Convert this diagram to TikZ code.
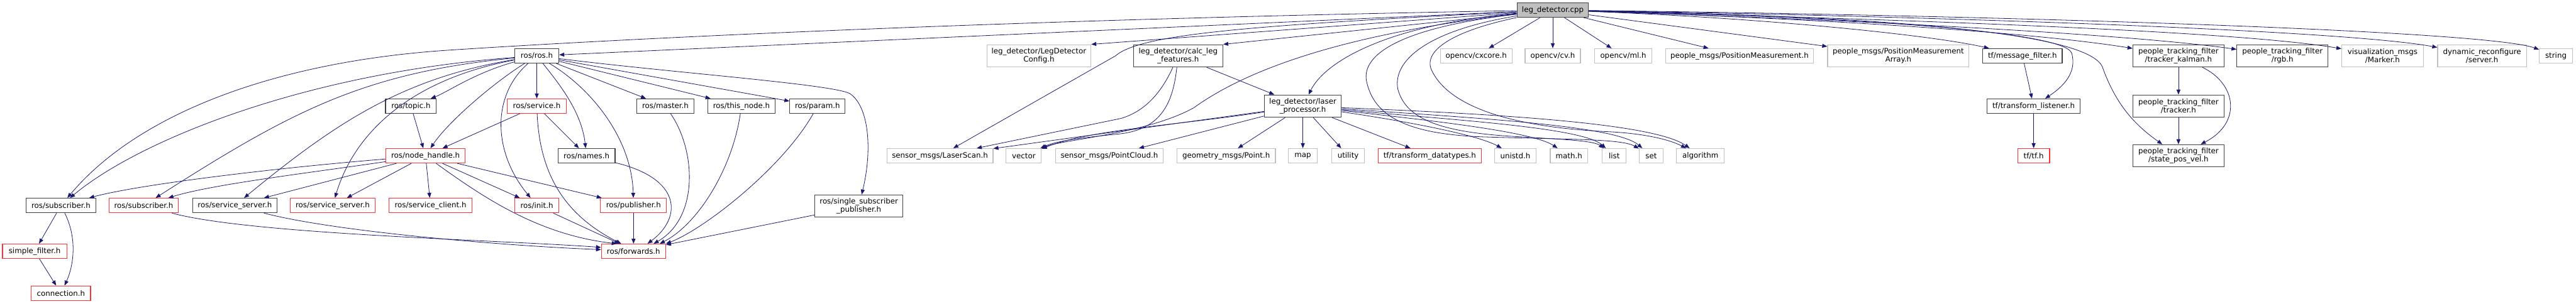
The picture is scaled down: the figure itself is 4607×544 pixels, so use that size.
\documentclass[tikz,border=0pt]{standalone}
\usepackage{fontspec}
\setmainfont{DejaVu Sans}
\usetikzlibrary{arrows.meta}
\definecolor{edgeblue}{HTML}{191970}
\definecolor{docdark}{HTML}{404040}
\definecolor{docred}{HTML}{FF3030}
\definecolor{extgray}{HTML}{BFBFBF}
\tikzset{
  hdr/.style={rectangle, draw, line width=1.2pt, fill=white, inner sep=0pt,
    minimum height=26pt, align=center, font=\fontsize{13.3}{14.5}\selectfont},
  doc/.style={hdr, draw=docdark},
  trunc/.style={hdr, draw=docred},
  ext/.style={hdr, draw=extgray},
  twoline/.style={minimum height=40pt},
  inc/.style={draw=edgeblue, line width=0.9pt, -{Triangle[length=9pt,width=7pt]}}
}
\begin{document}
\begin{tikzpicture}[x=1pt, y=-1pt]
    \useasboundingbox (0,0) rectangle (4607,544);

    % root
    \node[hdr, draw=docdark, fill=extgray, minimum width=128pt] (cpp) at (2777,18) {leg\_detector.cpp};

    % first level
    \node[doc, minimum width=79pt] (rosh) at (960,100) {ros/ros.h};
    \node[ext, twoline, minimum width=186pt] (ldc) at (1858,100) {leg\_detector/LegDetector\\Config.h};
    \node[doc, twoline, minimum width=160pt] (calc) at (2107,100) {leg\_detector/calc\_leg\\\_features.h};
    \node[ext, minimum width=128pt] (cxcore) at (2640,100) {opencv/cxcore.h};
    \node[ext, minimum width=99pt] (cv) at (2777,100) {opencv/cv.h};
    \node[ext, minimum width=102pt] (ml) at (2903,100) {opencv/ml.h};
    \node[ext, minimum width=265pt] (pm) at (3111,100) {people\_msgs/PositionMeasurement.h};
    \node[ext, twoline, minimum width=253pt] (pma) at (3395,100) {people\_msgs/PositionMeasurement\\Array.h};
    \node[doc, minimum width=142pt] (mf) at (3617,100) {tf/message\_filter.h};
    \node[doc, twoline, minimum width=163pt] (tk) at (3896,100) {people\_tracking\_filter\\/tracker\_kalman.h};
    \node[doc, twoline, minimum width=163pt] (rgb) at (4082,100) {people\_tracking\_filter\\/rgb.h};
    \node[ext, twoline, minimum width=146pt] (marker) at (4261,100) {visualization\_msgs\\/Marker.h};
    \node[ext, twoline, minimum width=159pt] (server) at (4439,100) {dynamic\_reconfigure\\/server.h};
    \node[ext, minimum width=59pt] (hstring) at (4571,100) {string};

    % second level
    \node[doc, minimum width=91pt] (topic) at (735,190) {ros/topic.h};
    \node[trunc, minimum width=105pt] (service) at (960,190) {ros/service.h};
    \node[doc, minimum width=102pt] (master) at (1190,190) {ros/master.h};
    \node[doc, minimum width=121pt] (thisnode) at (1326,190) {ros/this\_node.h};
    \node[doc, minimum width=99pt] (param) at (1462,190) {ros/param.h};
    \node[doc, twoline, minimum width=138pt] (lp) at (2330,190) {leg\_detector/laser\\\_processor.h};
    \node[doc, minimum width=166pt] (tl) at (3637,190) {tf/transform\_listener.h};
    \node[doc, twoline, minimum width=163pt] (tracker) at (3896,190) {people\_tracking\_filter\\/tracker.h};

    % third level
    \node[trunc, minimum width=142pt] (nh) at (761,279) {ros/node\_handle.h};
    \node[doc, minimum width=102pt] (names) at (1049,279) {ros/names.h};
    \node[ext, minimum width=190pt] (ls) at (1681,279) {sensor\_msgs/LaserScan.h};
    \node[ext, minimum width=63pt] (hvector) at (1831,279) {vector};
    \node[ext, minimum width=193pt] (pc) at (1984,279) {sensor\_msgs/PointCloud.h};
    \node[ext, minimum width=176pt] (pt) at (2193,279) {geometry\_msgs/Point.h};
    \node[ext, minimum width=51pt] (hmap) at (2330,279) {map};
    \node[ext, minimum width=59pt] (hutil) at (2411,279) {utility};
    \node[trunc, minimum width=184pt] (tfdt) at (2557,279) {tf/transform\_datatypes.h};
    \node[ext, minimum width=75pt] (hunistd) at (2710,279) {unistd.h};
    \node[ext, minimum width=67pt] (hmath) at (2806,279) {math.h};
    \node[ext, minimum width=43pt] (hlist) at (2887,279) {list};
    \node[ext, minimum width=43pt] (hset) at (2953,279) {set};
    \node[ext, minimum width=86pt] (halgo) at (3041,279) {algorithm};
    \node[trunc, minimum width=57pt] (tfh) at (3637,279) {tf/tf.h};
    \node[doc, twoline, minimum width=163pt] (spv) at (3896,279) {people\_tracking\_filter\\/state\_pos\_vel.h};

    % fourth level and below
    \node[doc, minimum width=124pt] (sub1) at (109,368) {ros/subscriber.h};
    \node[trunc, minimum width=124pt] (sub2) at (257,368) {ros/subscriber.h};
    \node[doc, minimum width=151pt] (ss1) at (420,368) {ros/service\_server.h};
    \node[trunc, minimum width=152pt] (ss2) at (595,368) {ros/service\_server.h};
    \node[trunc, minimum width=148pt] (sc) at (770,368) {ros/service\_client.h};
    \node[trunc, minimum width=79pt] (init) at (960,368) {ros/init.h};
    \node[trunc, minimum width=118pt] (pub) at (1133,368) {ros/publisher.h};
    \node[doc, twoline, minimum width=158pt] (ssp) at (1536,369) {ros/single\_subscriber\\\_publisher.h};
    \node[trunc, minimum width=115pt] (sf) at (62,450) {simple\_filter.h};
    \node[trunc, minimum width=115pt] (fw) at (1133,450) {ros/forwards.h};
    \node[trunc, minimum width=106pt] (conn) at (109,525) {connection.h};

    % straight includes
    \foreach \a/\b in {cpp/cxcore, cpp/cv, cpp/ml, cpp/pm, cpp/pma, cpp/rosh,
        rosh/service, rosh/master, rosh/thisnode, rosh/param,
        service/nh, service/names, topic/nh,
        nh/ss1, nh/ss2, nh/sc, nh/init, nh/pub, pub/fw, ssp/fw,
        sub1/sf, sf/conn, calc/lp, lp/ls, lp/pc, lp/pt, lp/hmap, lp/hutil, lp/tfdt,
        mf/tl, tl/tfh, tk/tracker, tracker/spv}
        \draw[inc] (\a) -- (\b);
    \draw[inc] (cpp) -- (ldc.north east);
    \draw[inc] (cpp) -- (calc.north east);
    \draw[inc] (init) -- ([xshift=-25pt]fw.north);

    % leg_detector.cpp, left side
    \draw[inc] (cpp) .. controls (1800,35) and (1100,70) .. (800,90) .. controls (500,110) and (250,200) .. (sub1);
    \draw[inc] (cpp) .. controls (2250,45) and (2040,60) .. (1995,100) -- (ls);
    \draw[inc] (cpp) .. controls (2450,55) and (2250,110) .. (2135,193) .. controls (2050,240) and (1900,250) .. (hvector);
    \draw[inc] (cpp) .. controls (2480,45) and (2370,110) .. (lp);
    \draw[inc] (cpp) .. controls (2500,50) and (2430,100) .. (2445,150) .. controls (2460,210) and (2520,240) .. (2650,245) .. controls (2800,250) and (2900,248) .. (hset);
    \draw[inc] (cpp) .. controls (2550,55) and (2490,110) .. (2500,160) .. controls (2515,215) and (2580,238) .. (2720,245) .. controls (2800,250) and (2850,252) .. (hlist);
    \draw[inc] (cpp) .. controls (2600,55) and (2545,90) .. (2560,125) .. controls (2590,190) and (2700,228) .. (2880,236) .. controls (2950,240) and (2990,252) .. (halgo);

    % leg_detector.cpp, right side
    \draw[inc] (cpp) .. controls (3150,32) and (3450,62) .. (mf);
    \draw[inc] (cpp) .. controls (3300,30) and (3690,55) .. (3705,95) .. controls (3715,130) and (3690,155) .. (tl);
    \draw[inc] (cpp) .. controls (3300,35) and (3650,60) .. (tk);
    \draw[inc] (cpp) .. controls (3400,30) and (3735,60) .. (3760,120) .. controls (3785,190) and (3820,225) .. (spv);
    \draw[inc] (cpp) .. controls (3300,35) and (3800,60) .. (rgb);
    \draw[inc] (cpp) .. controls (3400,35) and (4000,55) .. (marker);
    \draw[inc] (cpp) .. controls (3500,30) and (4200,55) .. (server);
    \draw[inc] (cpp) .. controls (3600,28) and (4450,55) .. (hstring);

    % leg detector headers
    \draw[inc] (calc) .. controls (2075,170) and (2045,200) .. (2005,212) -- (ls);
    \draw[inc] (calc) .. controls (2098,180) and (2080,232) .. (2000,240) .. controls (1940,246) and (1890,252) .. (hvector);
    \draw[inc] (lp) .. controls (2100,225) and (1950,232) .. (hvector);
    \draw[inc] (lp) .. controls (2500,215) and (2640,240) .. (hunistd);
    \draw[inc] (lp) .. controls (2550,215) and (2740,235) .. (hmath);
    \draw[inc] (lp) .. controls (2600,215) and (2830,228) .. (hlist);
    \draw[inc] (lp) .. controls (2650,212) and (2890,225) .. (hset);
    \draw[inc] (lp) .. controls (2700,205) and (2960,222) .. (halgo);
    \draw[inc] (tk) .. controls (4000,150) and (4010,220) .. (spv);

    % ros/ros.h
    \draw[inc] (rosh) .. controls (550,130) and (250,250) .. (sub1);
    \draw[inc] (rosh) .. controls (650,130) and (520,200) .. (sub2);
    \draw[inc] (rosh) .. controls (720,140) and (600,220) .. (ss1);
    \draw[inc] (rosh) .. controls (720,145) and (630,250) .. (ss2);
    \draw[inc] (rosh) .. controls (850,130) and (800,165) .. (topic);
    \draw[inc] (rosh) .. controls (880,150) and (800,220) .. (nh);
    \draw[inc] (rosh) .. controls (1000,150) and (1040,200) .. (names);
    \draw[inc] (rosh) .. controls (880,170) and (880,270) .. (init);
    \draw[inc] (rosh) .. controls (1060,160) and (1130,250) .. (pub);
    \draw[inc] (rosh) .. controls (1200,130) and (1480,150) .. (1519,167) .. controls (1555,190) and (1560,270) .. (ssp);

    % into ros/forwards.h
    \draw[inc] (service) .. controls (965,300) and (1000,380) .. ([xshift=-22pt]fw.north);
    \draw[inc] (names) .. controls (1220,320) and (1220,390) .. ([xshift=25pt]fw.north);
    \draw[inc] (master) .. controls (1245,270) and (1250,390) .. ([xshift=36pt]fw.north);
    \draw[inc] (thisnode) .. controls (1310,300) and (1250,400) .. ([xshift=47pt]fw.north);
    \draw[inc] (param) .. controls (1400,300) and (1260,410) .. (fw.north east);
    \draw[inc] (nh) .. controls (860,350) and (960,420) .. ([xshift=-30pt]fw.north);
    \draw[inc] (sub2) .. controls (450,420) and (900,430) .. ([yshift=7pt]fw.west);
    \draw[inc] (ss1) .. controls (600,415) and (900,440) .. ([yshift=3pt]fw.west);

    % ros/node_handle.h and subscriber
    \draw[inc] (nh) .. controls (500,300) and (250,330) .. (sub1);
    \draw[inc] (nh) .. controls (550,310) and (380,330) .. (sub2);
    \draw[inc] (sub1) .. controls (140,430) and (130,480) .. (conn);
\end{tikzpicture}
\end{document}
